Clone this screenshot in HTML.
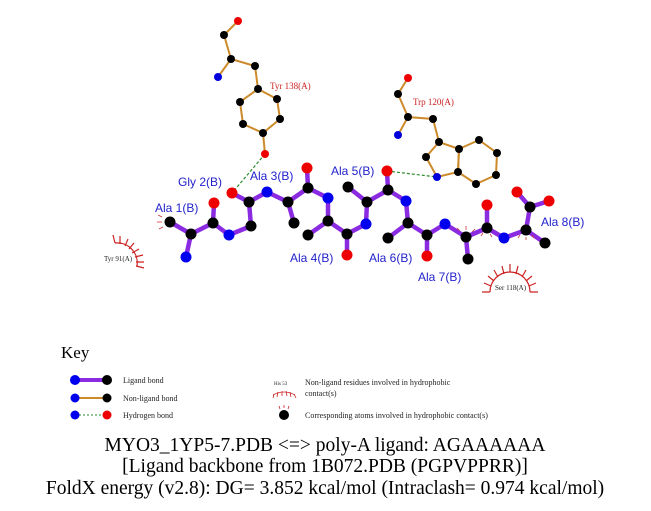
<!DOCTYPE html>
<html><head><meta charset="utf-8"><style>
html,body{margin:0;padding:0;background:#fff;}
svg{display:block;}
text{font-family:"Liberation Serif",serif;}
</style></head><body>
<svg width="651" height="511" viewBox="0 0 651 511" xmlns="http://www.w3.org/2000/svg">
<!-- non-ligand bonds -->
<g stroke="#cc8a2a" stroke-width="2" fill="none">
<polyline points="238,21 224,35 231,59 218,77"/>
<polyline points="231,59 255,66 258,89"/>
<polygon points="258,89 240,102 243,124 263,133 280,119 277,99"/>
<line x1="263" y1="133" x2="265" y2="154"/>
<polyline points="408,78 398,94 408,117 398,135"/>
<polyline points="408,117 433,119 439,142"/>
<polygon points="439,142 426,157 437,177 458,172 459,149"/>
<polygon points="459,149 479,140 497,153 496,175 476,184 458,172"/>
</g>
<!-- H-bonds -->
<g stroke="#2a8a2a" stroke-width="1.2" stroke-dasharray="3,2" fill="none">
<line x1="265" y1="154" x2="232" y2="193"/>
<line x1="387" y1="171" x2="437" y2="177"/>
</g>
<!-- ligand bonds -->
<g stroke="#8a2be2" stroke-width="4.5" fill="none" stroke-linejoin="round">
<polyline points="170,222 191,234 213,223 229,235 251,226 249,202 267,192 288,202 308,188 328,198 328,221 347,234 366,224 367,202 388,190 406,201 408,223 427,235 445,224 466,237 487,228 504,238 526,230 530,207"/>
<line x1="191" y1="234" x2="186" y2="257"/>
<line x1="213" y1="223" x2="214" y2="203"/>
<line x1="249" y1="202" x2="232" y2="193"/>
<line x1="288" y1="202" x2="294" y2="223"/>
<line x1="308" y1="188" x2="307" y2="168"/>
<line x1="328" y1="221" x2="308" y2="235"/>
<line x1="347" y1="234" x2="347" y2="255"/>
<line x1="367" y1="202" x2="348" y2="187"/>
<line x1="388" y1="190" x2="387" y2="171"/>
<line x1="408" y1="223" x2="388" y2="238"/>
<line x1="427" y1="235" x2="427" y2="256"/>
<line x1="466" y1="237" x2="468" y2="259"/>
<line x1="487" y1="228" x2="487" y2="205"/>
<line x1="526" y1="230" x2="545" y2="243"/>
<line x1="530" y1="207" x2="517" y2="192"/>
<line x1="530" y1="207" x2="549" y2="201"/>
</g>
<!-- small hydrophobic spikes on atoms -->
<g stroke="#cc3333" stroke-width="0.8">
<line x1="162" y1="217" x2="158" y2="215"/><line x1="162" y1="222" x2="157" y2="222"/><line x1="163" y1="227" x2="159" y2="229"/>
<line x1="460" y1="231" x2="457" y2="228"/><line x1="466" y1="230" x2="466" y2="226"/><line x1="472" y1="232" x2="475" y2="229"/>
<line x1="483" y1="233" x2="481" y2="236"/><line x1="490" y1="234" x2="492" y2="237"/>
<line x1="520" y1="235" x2="518" y2="238"/><line x1="526" y1="237" x2="526" y2="240"/><line x1="532" y1="235" x2="534" y2="238"/>
</g>
<!-- atoms -->
<g>
<g fill="#000">
<circle cx="224" cy="35" r="4"/><circle cx="231" cy="59" r="4"/><circle cx="255" cy="66" r="4"/><circle cx="258" cy="89" r="4"/>
<circle cx="240" cy="102" r="4"/><circle cx="277" cy="99" r="4"/><circle cx="243" cy="124" r="4"/><circle cx="280" cy="119" r="4"/><circle cx="263" cy="133" r="4"/>
<circle cx="398" cy="94" r="4"/><circle cx="408" cy="117" r="4"/><circle cx="433" cy="119" r="4"/><circle cx="439" cy="142" r="4"/><circle cx="426" cy="157" r="4"/>
<circle cx="458" cy="172" r="4"/><circle cx="459" cy="149" r="4"/><circle cx="479" cy="140" r="4"/><circle cx="497" cy="153" r="4"/><circle cx="496" cy="175" r="4"/><circle cx="476" cy="184" r="4"/>
</g>
<g fill="#0000dd">
<circle cx="218" cy="77" r="4"/><circle cx="398" cy="135" r="4"/><circle cx="437" cy="177" r="4"/>
</g>
<g fill="#ee0000">
<circle cx="238" cy="21" r="4"/><circle cx="265" cy="154" r="4"/><circle cx="408" cy="78" r="4"/>
</g>
<g fill="#000">
<circle cx="170" cy="222" r="5.5"/><circle cx="191" cy="234" r="5.5"/><circle cx="213" cy="223" r="5.5"/>
<circle cx="251" cy="226" r="5.5"/><circle cx="249" cy="202" r="5.5"/><circle cx="288" cy="202" r="5.5"/><circle cx="294" cy="223" r="5.5"/>
<circle cx="308" cy="188" r="5.5"/><circle cx="328" cy="221" r="5.5"/><circle cx="308" cy="235" r="5.5"/><circle cx="347" cy="234" r="5.5"/>
<circle cx="367" cy="202" r="5.5"/><circle cx="348" cy="187" r="5.5"/><circle cx="388" cy="190" r="5.5"/>
<circle cx="408" cy="223" r="5.5"/><circle cx="388" cy="238" r="5.5"/><circle cx="427" cy="235" r="5.5"/>
<circle cx="466" cy="237" r="5.5"/><circle cx="468" cy="259" r="5.5"/><circle cx="487" cy="228" r="5.5"/>
<circle cx="526" cy="230" r="5.5"/><circle cx="545" cy="243" r="5.5"/><circle cx="530" cy="207" r="5.5"/>
</g>
<g fill="#0000ee">
<circle cx="186" cy="257" r="5.5"/><circle cx="229" cy="235" r="5.5"/><circle cx="267" cy="192" r="5.5"/><circle cx="328" cy="198" r="5.5"/>
<circle cx="366" cy="224" r="5.5"/><circle cx="406" cy="201" r="5.5"/><circle cx="445" cy="224" r="5.5"/><circle cx="504" cy="238" r="5.5"/>
</g>
<g fill="#ee0000">
<circle cx="214" cy="203" r="5.5"/><circle cx="232" cy="193" r="5.5"/><circle cx="307" cy="168" r="5.5"/><circle cx="347" cy="255" r="5.5"/>
<circle cx="387" cy="171" r="5.5"/><circle cx="427" cy="256" r="5.5"/><circle cx="487" cy="205" r="5.5"/><circle cx="517" cy="192" r="5.5"/><circle cx="549" cy="201" r="5.5"/>
</g>
</g>
<!-- hydrophobic arcs -->
<g stroke="#cc2222" stroke-width="1.2" fill="none">
<path d="M115,243 A20,20 0 0 1 137,266"/>
<path d="M115,243 L113,235 M120,244 L120,236 M125,246 L128,239 M129,249 L134,243 M132,253 L139,249 M135,257 L143,255 M136,262 L144,262 M136,266 L144,268"/>
<path d="M490,292 A20,20 0 0 1 530,292"/>
<path d="M490,292 L482,292 M491,286 L484,283 M494,281 L488,276 M498,277 L494,270 M504,274 L502,266 M510,272 L510,264 M516,274 L518,266 M522,277 L526,270 M526,281 L532,276 M529,286 L536,283 M530,292 L538,292"/>
</g>
<!-- labels -->
<g font-size="9" fill="#cc2222">
<text x="270" y="89">Tyr 138(A)</text>
<text x="413" y="105">Trp 120(A)</text>
</g>
<g font-size="7" fill="#222">
<text x="104" y="261">Tyr 91(A)</text>
<text x="495" y="290">Ser 118(A)</text>
</g>
<g font-size="12" fill="#2222cc">
<text x="178" y="186" style="font-family:'Liberation Sans',sans-serif">Gly 2(B)</text>
<text x="250" y="180" style="font-family:'Liberation Sans',sans-serif">Ala 3(B)</text>
<text x="331" y="175" style="font-family:'Liberation Sans',sans-serif">Ala 5(B)</text>
<text x="155" y="212" style="font-family:'Liberation Sans',sans-serif">Ala 1(B)</text>
<text x="290" y="262" style="font-family:'Liberation Sans',sans-serif">Ala 4(B)</text>
<text x="369" y="262" style="font-family:'Liberation Sans',sans-serif">Ala 6(B)</text>
<text x="418" y="281" style="font-family:'Liberation Sans',sans-serif">Ala 7(B)</text>
<text x="541" y="226" style="font-family:'Liberation Sans',sans-serif">Ala 8(B)</text>
</g>
<!-- key -->
<text x="61" y="358" font-size="17">Key</text>
<line x1="75" y1="380" x2="107" y2="380" stroke="#8a2be2" stroke-width="4"/>
<circle cx="75" cy="380" r="5" fill="#0000ee"/><circle cx="107" cy="380" r="5" fill="#000"/>
<line x1="75" y1="398" x2="107" y2="398" stroke="#cc8a2a" stroke-width="2"/>
<circle cx="75" cy="398" r="4.5" fill="#0000ee"/><circle cx="107" cy="398" r="4.5" fill="#000"/>
<line x1="75" y1="415" x2="107" y2="415" stroke="#2a8a2a" stroke-width="1" stroke-dasharray="2,2"/>
<circle cx="75" cy="415" r="4.5" fill="#0000ee"/><circle cx="107" cy="415" r="4.5" fill="#ee0000"/>
<g font-size="8" fill="#222">
<text x="123" y="383">Ligand bond</text>
<text x="123" y="401">Non-ligand bond</text>
<text x="123" y="418">Hydrogen bond</text>
<text x="305" y="385">Non-ligand residues involved in hydrophobic</text>
<text x="305" y="396">contact(s)</text>
<text x="305" y="418">Corresponding atoms involved in hydrophobic contact(s)</text>
<text x="274" y="385" font-size="5">His 53</text>
</g>
<g stroke="#cc2222" stroke-width="0.8">
<path d="M273,395 Q284,389 295,395" fill="none"/>
<path d="M274,394 L273,398 M278,392 L277,397 M282,391 L282,396 M286,391 L287,396 M290,392 L291,397 M294,394 L296,398"/>
<path d="M280,409 L279,406 M284,408 L284,405 M288,409 L289,406"/>
</g>
<circle cx="284" cy="415" r="5" fill="#000"/>
<!-- footer -->
<g font-size="19.5" fill="#000" text-anchor="middle">
<text x="325" y="451">MYO3_1YP5-7.PDB &lt;=&gt; poly-A ligand: AGAAAAAA</text>
<text x="325" y="472">[Ligand backbone from 1B072.PDB (PGPVPPRR)]</text>
<text x="325" y="494">FoldX energy (v2.8): DG= 3.852 kcal/mol (Intraclash= 0.974 kcal/mol)</text>
</g>
</svg>
</body></html>
